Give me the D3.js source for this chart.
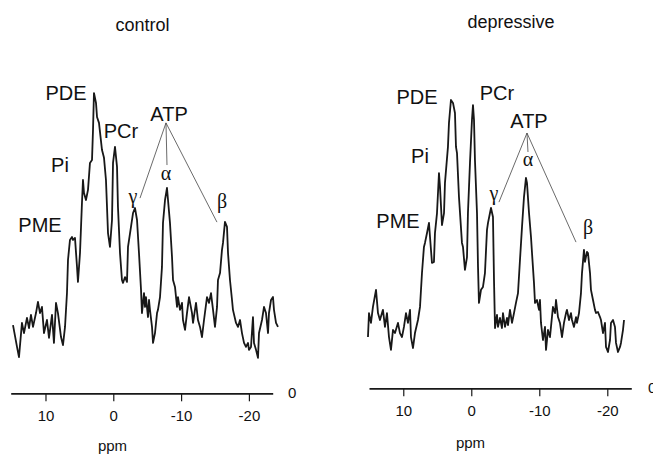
<!DOCTYPE html>
<html>
<head>
<meta charset="utf-8">
<script src="https://cdn.jsdelivr.net/npm/d3@7"></script>
<style>
  body { margin: 0; background: #fff; }
  svg { display: block; }
  .lbl { font-family: "Liberation Sans", Arial, sans-serif; fill: #111; }
  .greek { font-family: "Liberation Serif", "Times New Roman", serif; fill: #111; }
</style>
</head>
<body>
<svg id="fig" width="653" height="456"></svg>
<script>
// 31P spectra (ppm, arbitrary intensity 0-100)
var ppmControl = [14.79,14.20,13.91,13.47,13.17,12.73,12.43,12.14,11.84,11.40,11.11,10.81,10.52,10.22,9.78,9.48,9.04,8.75,8.45,8.16,
  7.71,7.42,7.12,6.83,6.68,6.39,6.09,5.94,5.65,5.35,5.21,4.91,4.62,4.47,4.32,4.03,3.73,3.44,3.14,2.99,
  2.85,2.55,2.40,2.11,1.67,1.37,1.08,0.78,0.49,0.19,0.04,-0.25,-0.55,-0.69,-0.99,-1.28,-1.43,-1.73,-2.02,-2.17,
  -2.61,-2.91,-3.20,-3.50,-3.79,-4.09,-4.23,-4.53,-4.68,-4.82,-5.12,-5.27,-5.41,-5.71,-5.86,-6.15,-6.45,-6.59,-6.89,-7.18,
  -7.33,-7.63,-7.92,-8.07,-8.36,-8.66,-8.81,-9.10,-9.40,-9.54,-9.84,-10.13,-10.28,-10.58,-10.87,-11.17,-11.61,-11.76,-12.20,-12.49,
  -12.79,-13.08,-13.38,-13.82,-14.12,-14.41,-14.71,-15.00,-15.30,-15.44,-15.74,-16.03,-16.18,-16.47,-16.77,-16.92,-17.21,-17.51,-17.65,-18.10,
  -18.39,-18.69,-18.98,-19.28,-19.57,-19.87,-20.01,-20.31,-20.60,-20.75,-21.05,-21.34,-21.49,-21.93,-22.23,-22.52,-22.82,-22.96,-23.26,-23.55,
  -23.70,-24.00,-24.29];
var intControl = [13.1,4.9,1.1,13.9,10.1,15.8,12.0,16.9,12.4,17.6,21.8,17.6,19.9,10.1,15.0,8.3,16.9,6.4,21.4,17.6,
  8.6,5.6,12.4,25.1,37.5,45.0,46.1,45.0,45.8,34.9,29.3,40.1,58.9,67.5,62.6,60.0,63.8,73.9,75.0,86.3,
  100.1,96.4,91.1,88.9,78.8,75.8,67.5,47.6,42.4,52.5,73.9,79.9,72.4,57.4,40.1,30.0,28.9,31.1,29.3,42.4,
  49.9,55.1,57.0,52.5,40.1,26.3,17.6,25.1,19.9,23.6,16.1,22.5,18.8,12.4,6.4,10.1,17.6,18.8,23.6,34.9,
  51.4,60.0,64.5,60.0,51.4,38.6,30.0,27.4,19.9,23.6,18.8,21.4,15.0,11.3,17.6,23.6,17.6,13.9,21.4,15.0,
  12.4,8.6,15.0,23.6,21.4,25.1,18.8,12.4,19.9,30.0,32.6,41.3,43.9,51.8,49.9,40.1,30.0,22.5,18.8,13.9,
  12.4,15.0,10.1,6.4,4.9,6.4,3.8,4.9,16.1,6.4,3.8,0.8,10.1,15.0,19.9,17.6,10.1,17.6,22.5,23.6,
  18.8,13.9,12.4];

var ppmDepressive = [15.19,15.04,14.75,14.46,14.01,13.72,13.43,12.99,12.69,12.40,12.10,11.81,11.51,11.22,10.78,10.49,10.19,9.90,9.60,9.31,
  9.01,8.87,8.57,8.28,7.84,7.54,7.25,6.96,6.81,6.51,6.22,6.07,5.78,5.49,5.34,5.04,4.75,4.60,4.31,4.01,
  3.87,3.43,3.28,2.99,2.69,2.40,2.25,2.10,1.81,1.37,1.22,0.93,0.63,0.49,0.19,-0.10,-0.25,-0.40,-0.54,-0.84,
  -0.99,-1.13,-1.43,-1.72,-2.01,-2.31,-2.46,-2.75,-2.90,-3.19,-3.34,-3.49,-3.78,-3.93,-4.22,-4.51,-4.66,-4.96,-5.25,-5.40,
  -5.69,-5.99,-6.28,-6.57,-6.87,-7.16,-7.46,-7.75,-8.04,-8.19,-8.49,-8.78,-8.93,-9.22,-9.37,-9.66,-9.96,-10.10,-10.25,-10.54,
  -10.84,-10.99,-11.28,-11.57,-11.72,-12.01,-12.31,-12.46,-12.75,-13.04,-13.34,-13.63,-13.93,-14.07,-14.37,-14.66,-14.81,-15.10,-15.40,-15.54,
  -15.84,-16.13,-16.28,-16.57,-16.72,-17.01,-17.16,-17.46,-17.60,-17.90,-18.19,-18.34,-18.63,-18.93,-19.07,-19.37,-19.66,-19.81,-20.10,-20.40,
  -20.54,-20.84,-21.13,-21.28,-21.57,-21.87,-22.01,-22.31,-22.46];
var intDepressive = [8.6,17.6,13.9,19.9,26.3,17.6,15.0,18.8,12.4,17.6,8.6,3.8,11.3,10.1,13.9,10.1,8.6,12.4,17.6,13.9,
  18.8,8.6,4.5,10.1,15.0,19.9,32.6,42.4,43.9,47.6,51.4,46.1,36.4,36.8,47.6,55.1,70.1,64.9,50.6,55.1,
  66.4,79.9,88.9,97.5,96.4,92.6,79.9,77.6,61.1,43.9,42.4,33.8,38.6,55.1,73.9,90.0,95.6,90.0,75.0,55.1,
  34.9,21.4,26.3,27.4,32.6,48.8,51.4,55.1,57.0,53.6,30.0,12.0,16.9,12.4,15.8,12.0,17.6,12.4,15.8,13.1,
  18.8,13.9,17.6,21.4,25.1,37.5,49.9,61.1,68.3,66.4,55.1,46.1,40.1,28.9,21.4,22.5,18.8,22.5,13.9,7.5,
  12.4,3.8,11.3,8.6,12.4,19.9,17.6,22.5,16.1,13.9,8.6,13.9,17.6,18.8,15.0,17.6,15.0,12.4,16.1,13.9,
  17.6,25.1,32.6,41.3,36.8,40.5,40.1,32.6,26.3,22.5,18.8,17.6,18.0,16.1,15.0,10.1,13.9,4.9,3.0,7.5,
  13.9,15.0,12.4,6.4,3.0,4.9,6.4,11.3,15.0];

var titles = ["control", "depressive"];
var peakNames = ["PDE", "Pi", "PME", "PCr", "ATP"];
var atpNames = ["\u03b3", "\u03b1", "\u03b2"];
var ppmTicks = [10, 0, -10, -20];

var svg = d3.select("#fig");

// layout of the two panels (label spots given in ppm / intensity)
var panels = [
  { title: titles[0], ppm: ppmControl, val: intControl,
    domain: [15.13, -23.51], range: [10.7, 272.7], axisY: 393.3,
    titleX: 142.5, titleY: 31, zeroX: 288, zeroY: 398, ppmX: 112.5, ppmY: 451,
    peaks: [[6.97, 97.5], [7.86, 70.5], [10.81, 48.0], [-1.14, 83.2], [-8.22, 89.6]],
    greek: [[-2.91, 58.9], [-7.77, 67.5], [-16.03, 57.0]],
    apex: [-7.77, 88.9], ends: [[-3.94, 60.7], [-7.92, 73.1], [-15.29, 51.7]] },
  { title: titles[1], ppm: ppmDepressive, val: intDepressive,
    domain: [15.04, -23.53], range: [369, 631.3], axisY: 388.3,
    titleX: 511, titleY: 28, zeroX: 648, zeroY: 393, ppmX: 470.5, ppmY: 448,
    peaks: [[7.99, 96.0], [7.54, 73.9], [10.78, 49.5], [-3.78, 97.5], [-8.49, 87.0]],
    greek: [[-3.34, 60.0], [-8.34, 72.7], [-17.16, 47.2]],
    apex: [-8.19, 85.1], ends: [[-4.07, 59.2], [-8.34, 78.0], [-15.40, 44.2]] }
];

var y = d3.scaleLinear().domain([0, 100]).range([360, 93.3]);

panels.forEach(function(p) {
  var x = d3.scaleLinear().domain(p.domain).range(p.range);
  var g = svg.append("g");

  var pts = p.ppm.map(function(d, i) { return [d, p.val[i]]; });
  var line = d3.line()
      .x(function(d) { return x(d[0]); })
      .y(function(d) { return y(d[1]); });

  g.append("path")
      .datum(pts)
      .attr("d", line)
      .attr("fill", "none")
      .attr("stroke", "#181818")
      .attr("stroke-width", 1.8)
      .attr("stroke-linejoin", "round");

  // ATP connector lines
  p.ends.forEach(function(e) {
    g.append("line")
        .attr("x1", x(p.apex[0])).attr("y1", y(p.apex[1]))
        .attr("x2", x(e[0])).attr("y2", y(e[1]))
        .attr("stroke", "#444")
        .attr("stroke-width", 0.8);
  });

  g.selectAll(".peak")
      .data(p.peaks)
    .enter().append("text")
      .attr("class", "lbl peak")
      .attr("x", function(d) { return x(d[0]); })
      .attr("y", function(d) { return y(d[1]); })
      .attr("text-anchor", "middle")
      .attr("font-size", 20)
      .text(function(d, i) { return peakNames[i]; });

  g.selectAll(".greek")
      .data(p.greek)
    .enter().append("text")
      .attr("class", "greek")
      .attr("x", function(d) { return x(d[0]); })
      .attr("y", function(d) { return y(d[1]); })
      .attr("text-anchor", "middle")
      .attr("font-size", 20)
      .text(function(d, i) { return atpNames[i]; });

  var xAxis = d3.axisBottom(x)
      .tickValues(ppmTicks)
      .tickSize(8)
      .tickSizeOuter(0)
      .tickPadding(9.5)
      .tickFormat(d3.format("d"));

  var ax = g.append("g")
      .attr("transform", "translate(0," + p.axisY + ")")
      .call(xAxis);
  ax.select(".domain").attr("stroke", "#181818").attr("stroke-width", 1.7);
  ax.selectAll(".tick line").attr("stroke", "#181818").attr("stroke-width", 1.2);
  ax.selectAll(".tick text")
      .attr("class", "lbl")
      .attr("font-size", 15)
      .text(function(d) { return d < 0 ? "-" + Math.abs(d) : d; });

  g.append("text").attr("class", "lbl")
      .attr("x", p.zeroX).attr("y", p.zeroY)
      .attr("font-size", 15)
      .text("0");

  g.append("text").attr("class", "lbl")
      .attr("x", p.ppmX).attr("y", p.ppmY)
      .attr("text-anchor", "middle")
      .attr("font-size", 15)
      .text("ppm");

  g.append("text").attr("class", "lbl")
      .attr("x", p.titleX).attr("y", p.titleY)
      .attr("text-anchor", "middle")
      .attr("font-size", 18)
      .text(p.title);
});
</script>
</body>
</html>
